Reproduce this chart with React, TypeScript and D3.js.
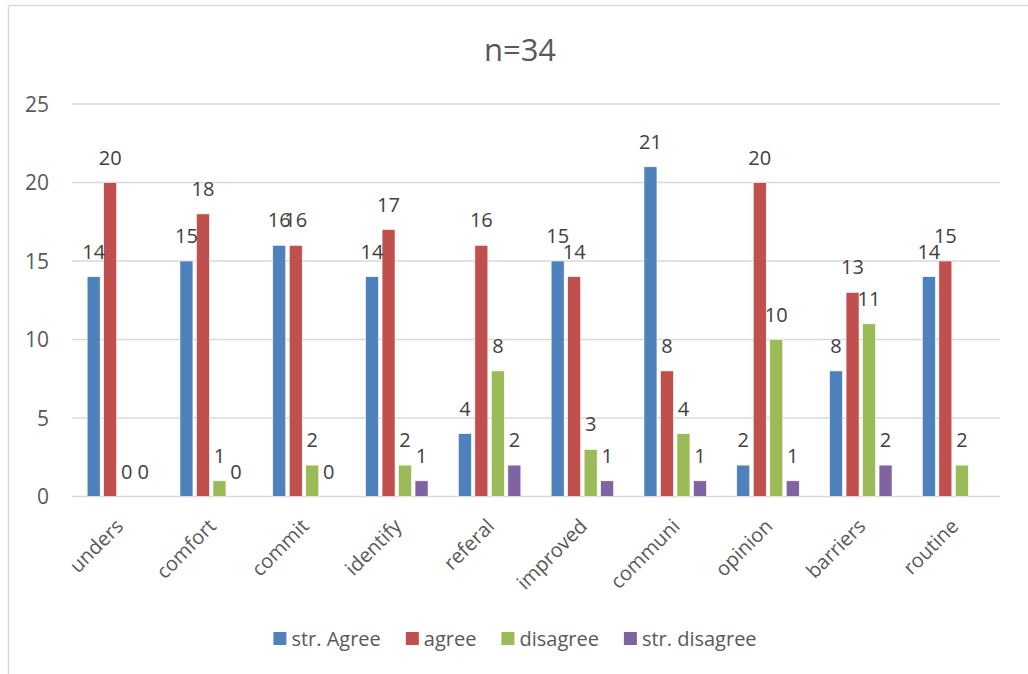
import { useEffect, useRef } from "react";
import * as d3 from "d3";

const categories = ["unders", "comfort", "commit", "identify", "referal", "improved", "communi", "opinion", "barriers", "routine"];
const seriesNames = ["str. Agree", "agree", "disagree", "str. disagree"];
const strAgree = [14, 15, 16, 14, 4, 15, 21, 2, 8, 14];
const agree = [20, 18, 16, 17, 16, 14, 8, 20, 13, 15];
const disagree = [0, 1, 2, 2, 8, 3, 4, 10, 11, 2];
const strDisagree: (number | null)[] = [0, 0, 0, 1, 2, 1, 1, 1, 2, null];
const colors = ["#4F81BD", "#C0504D", "#9BBB59", "#8064A2"];
const yTicks = [0, 5, 10, 15, 20, 25];
const title = "n=34";

type Bar = { cat: string; series: number; value: number };

export default function App() {
  const ref = useRef<SVGSVGElement | null>(null);

  useEffect(() => {
    const node = ref.current;
    if (!node) return;
    const svg = d3.select(node);
    svg.selectAll("*").remove();

    const width = 1028;
    const height = 674;
    const font = "'Open Sans', 'Noto Sans', sans-serif";
    const textColor = "#595959";
    const grid = "#d9d9d9";

    const left = 72;
    const right = 1000;
    const top = 104;
    const bottom = 496.5;

    const allSeries = [strAgree, agree, disagree, strDisagree];
    const bars: Bar[] = [];
    categories.forEach((cat, i) => {
      allSeries.forEach((vals, s) => {
        const v = vals[i];
        if (v !== null && v !== undefined) bars.push({ cat, series: s, value: v });
      });
    });

    const x = d3.scaleBand<string>().domain(categories).range([left, right]).paddingInner(0).paddingOuter(0);
    const step = 16.5;
    const barW = 13;
    const y = d3.scaleLinear().domain([0, 25]).range([bottom, top]);

    // chart frame
    svg.append("line").attr("x1", 8.5).attr("x2", width).attr("y1", 5.5).attr("y2", 5.5).attr("stroke", grid).attr("stroke-width", 1.5);
    svg.append("line").attr("x1", 8.5).attr("x2", 8.5).attr("y1", 5.5).attr("y2", height).attr("stroke", grid).attr("stroke-width", 1.5);

    svg
      .append("text")
      .attr("x", 520)
      .attr("y", 61)
      .attr("text-anchor", "middle")
      .attr("font-family", font)
      .attr("font-size", 31)
      .attr("fill", textColor)
      .text(title);

    svg
      .append("g")
      .selectAll("line")
      .data(yTicks)
      .join("line")
      .attr("x1", left)
      .attr("x2", right)
      .attr("y1", (d) => y(d))
      .attr("y2", (d) => y(d))
      .attr("stroke", grid)
      .attr("stroke-width", 1.5);

    svg
      .append("g")
      .selectAll("text")
      .data(yTicks)
      .join("text")
      .attr("x", 49)
      .attr("y", (d) => y(d))
      .attr("dy", "0.36em")
      .attr("text-anchor", "end")
      .attr("font-family", font)
      .attr("font-size", 21)
      .attr("fill", textColor)
      .text((d) => String(d));

    const barX = (b: Bar) => (x(b.cat) ?? 0) + x.bandwidth() / 2 + (b.series - 1.5) * step - barW / 2;

    svg
      .append("g")
      .selectAll("rect")
      .data(bars)
      .join("rect")
      .attr("x", barX)
      .attr("y", (b) => y(b.value))
      .attr("width", barW)
      .attr("height", (b) => y(0) - y(b.value))
      .attr("fill", (b) => colors[b.series])
      .attr("stroke", "#ffffff")
      .attr("stroke-width", 0.6);

    svg
      .append("g")
      .selectAll("text")
      .data(bars)
      .join("text")
      .attr("x", (b) => barX(b) + barW / 2)
      .attr("y", (b) => y(b.value) - 18)
      .attr("text-anchor", "middle")
      .attr("font-family", font)
      .attr("font-size", 20)
      .attr("fill", "#404040")
      .text((b) => String(b.value));

    svg
      .append("g")
      .selectAll("text")
      .data(categories)
      .join("text")
      .attr("transform", (c) => `translate(${(x(c) ?? 0) + x.bandwidth() / 2 + 6},${bottom + 31}) rotate(-45)`)
      .attr("text-anchor", "end")
      .attr("font-family", font)
      .attr("font-size", 20)
      .attr("fill", textColor)
      .text((c) => c);

    // legend
    const legend = svg.append("g");
    let cursor = 0;
    const items = seriesNames.map((name, i) => {
      const g = legend.append("g");
      g.append("rect").attr("x", 0).attr("y", -7).attr("width", 13).attr("height", 13).attr("fill", colors[i]);
      const t = g
        .append("text")
        .attr("x", 18)
        .attr("y", 0)
        .attr("dy", "0.35em")
        .attr("font-family", font)
        .attr("font-size", 20)
        .attr("fill", textColor)
        .text(name);
      const w = (t.node() as SVGTextElement).getComputedTextLength();
      g.attr("transform", `translate(${cursor},639)`);
      cursor += 18 + w + 25;
      return g;
    });
    const total = cursor - 25;
    legend.attr("transform", `translate(${515 - total / 2},0)`);
    void items;
  }, []);

  return (
    <svg
      ref={ref}
      width={1028}
      height={674}
      viewBox="0 0 1028 674"
      style={{ position: "absolute", left: 0, top: 0, background: "#ffffff" }}
    />
  );
}
